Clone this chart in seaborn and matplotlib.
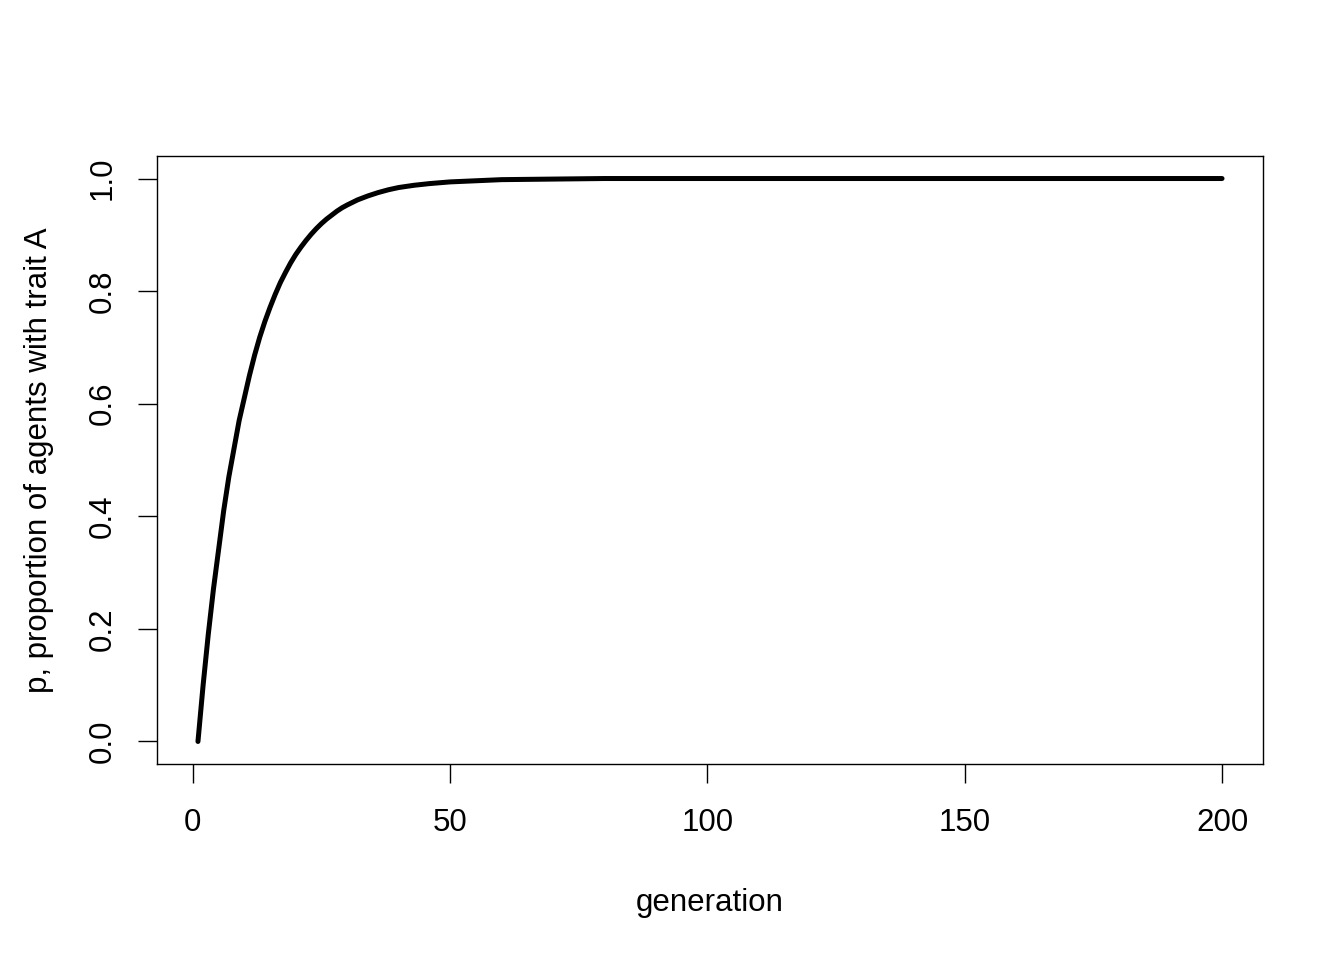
import matplotlib
matplotlib.use("Agg")
import matplotlib.pyplot as plt
import seaborn as sns
import pandas as pd

# values
generation = [1, 2, 3, 4, 5, 6, 7, 8, 9, 10, 11, 12, 13, 14, 15, 16, 17, 18, 19, 20,
              21, 22, 23, 24, 25, 26, 27, 28, 29, 30, 32, 34, 36, 38, 40, 43, 46,
              50, 55, 60, 70, 80, 200]
p_values = [0.0, 0.10, 0.19, 0.27, 0.34, 0.41, 0.47, 0.52, 0.57, 0.61, 0.65, 0.686,
            0.718, 0.746, 0.771, 0.794, 0.815, 0.833, 0.85, 0.865, 0.878, 0.89,
            0.901, 0.911, 0.92, 0.928, 0.935, 0.942, 0.948, 0.953, 0.962, 0.969,
            0.975, 0.98, 0.984, 0.988, 0.991, 0.994, 0.996, 0.998, 0.999, 1.0, 1.0]
x_ticks = [0, 50, 100, 150, 200]
y_ticks = [0.0, 0.2, 0.4, 0.6, 0.8, 1.0]

sns.set_style("white")
plt.rcParams['font.family'] = ['Liberation Sans', 'DejaVu Sans']

df = pd.DataFrame({'generation': generation, 'p': p_values})

fig = plt.figure(figsize=(13.44, 9.6), dpi=100)
ax = fig.add_axes([157/1344, 1-764/960, (1263-157)/1344, (764-156)/960])
sns.lineplot(data=df, x='generation', y='p', color='black', linewidth=3.6, ax=ax)

ax.set_xlim(-6.96, 207.96)
ax.set_ylim(-0.04, 1.04)
ax.set_xticks(x_ticks)
ax.set_xticklabels([str(t) for t in x_ticks])
ax.set_yticks(y_ticks)
ax.set_yticklabels(['%.1f' % t for t in y_ticks], rotation=90, va='center')
ax.tick_params(direction='out', length=13.5, width=1, colors='black',
               labelsize=22.5, bottom=True, left=True)
ax.tick_params(axis='x', pad=18)
ax.tick_params(axis='y', pad=15)
for s in ax.spines.values():
    s.set_color('black')
    s.set_linewidth(1)

ax.set_xlabel('generation', fontsize=22.5, color='black', labelpad=36)
ax.set_ylabel('p, proportion of agents with trait A', fontsize=22.5, color='black',
              labelpad=24)

fig.savefig('out.png', dpi=100, facecolor='white')
